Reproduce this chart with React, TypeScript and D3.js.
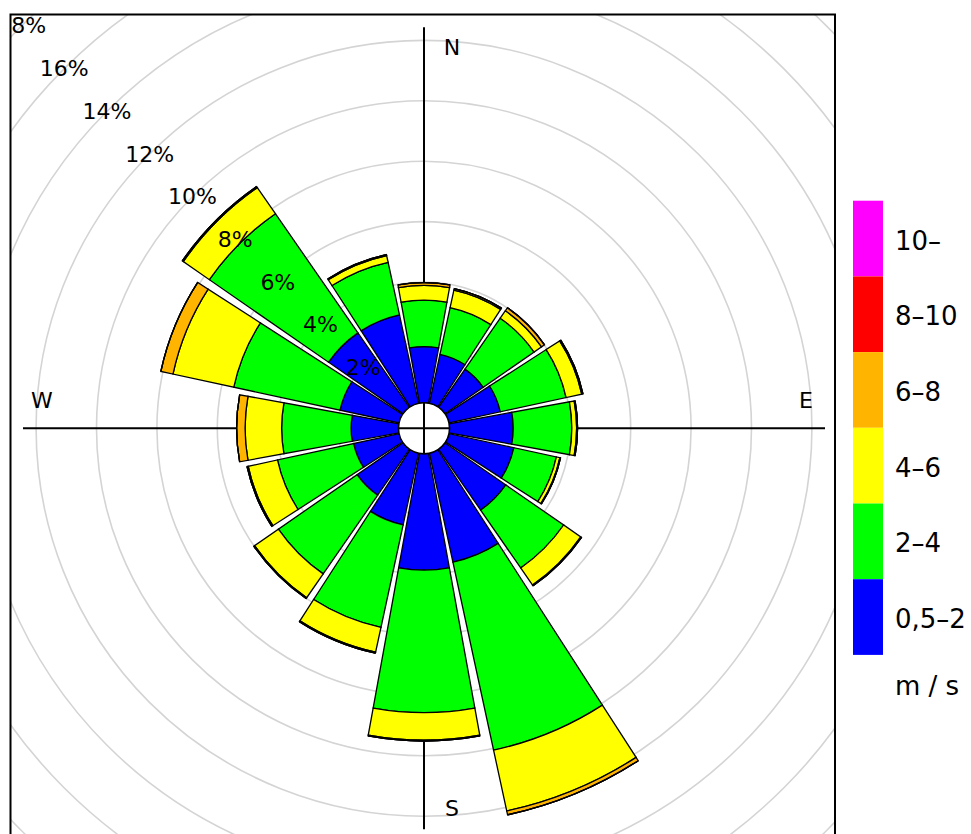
import React from "react";
import * as d3 from "d3";

const directions = ["N", "NNE", "NE", "ENE", "E", "ESE", "SE", "SSE", "S", "SSW", "SW", "WSW", "W", "WNW", "NW", "NNW"];
const speedBins = ["0,5–2", "2–4", "4–6", "6–8", "8–10", "10–"];
const binColors = ["#0000ff", "#00ff00", "#ffff00", "#ffb400", "#ff0000", "#ff00ff"];

// frequency (%) per direction, per speed bin
const bin05to2 = [1.86, 1.66, 1.54, 1.74, 2.11, 2.2, 2.45, 3.69, 3.85, 2.43, 1.85, 1.54, 1.57, 2.0, 3.0, 3.0];
const bin2to4 = [1.54, 1.58, 2.05, 2.23, 1.94, 1.44, 2.33, 6.37, 4.72, 3.47, 3.17, 2.58, 2.3, 3.6, 4.8, 1.78];
const bin4to6 = [0.49, 0.6, 0.3, 0.53, 0.16, 0.12, 0.69, 2.06, 0.91, 0.84, 0.96, 0.99, 1.21, 2.06, 1.05, 0.23];
const bin6to8 = [0.09, 0.05, 0.12, 0.04, 0.03, 0.02, 0.03, 0.13, 0.03, 0.03, 0.03, 0.04, 0.28, 0.41, 0.04, 0.03];
const bin8to10 = [0, 0, 0, 0, 0, 0, 0, 0, 0, 0, 0, 0, 0, 0, 0, 0];
const bin10up = [0, 0, 0, 0, 0, 0, 0, 0, 0, 0, 0, 0, 0, 0, 0, 0];

const gridTicks = [2, 4, 6, 8, 10, 12, 14, 16, 18, 20];
const labelTicks = [2, 4, 6, 8, 10, 12, 14, 16, 18];
const compass = [
  { t: "N", dx: 28, dy: -381 },
  { t: "E", dx: 382, dy: -28 },
  { t: "S", dx: 28, dy: 380 },
  { t: "W", dx: -382, dy: -28 },
];

const W = 971;
const H = 834;
const cx = 424;
const cy = 428.3;
const innerR = 25.5;
const frame = { x0: 10.5, y0: 14.5, x1: 835, y1: 842 };
const font = "'DejaVu Sans', Verdana, sans-serif";

export default function App() {
  const r = d3.scaleLinear().domain([0, 20]).range([innerR, innerR + 604]);
  const series = [bin05to2, bin2to4, bin4to6, bin6to8, bin8to10, bin10up];
  const half = (10.3 * Math.PI) / 180;
  const arc = d3.arc<any>();

  const wedges = directions.map((d, i) => {
    const a = (i * 22.5 * Math.PI) / 180;
    let cum = 0;
    const segs = series.map((s, k) => {
      const start = cum;
      cum += s[i];
      return {
        key: `${d}-${k}`,
        color: binColors[k],
        path: arc({
          innerRadius: r(start),
          outerRadius: r(cum),
          startAngle: a - half,
          endAngle: a + half,
        }) as string,
      };
    });
    return segs;
  });

  const legendTop = 200.7;
  const legendH = 75.7;
  const legendItems = speedBins.map((b, k) => ({ b, color: binColors[k] })).reverse();

  return (
    <svg width={W} height={H} style={{ position: "absolute", left: 0, top: 0, background: "#fff" }} fontFamily={font}>
      <defs>
        <clipPath id="plotclip">
          <rect x={frame.x0} y={frame.y0} width={frame.x1 - frame.x0} height={frame.y1 - frame.y0} />
        </clipPath>
      </defs>
      <g clipPath="url(#plotclip)">
        {gridTicks.map((t) => (
          <circle key={t} cx={cx} cy={cy} r={r(t)} fill="none" stroke="#d4d4d4" strokeWidth={1.6} />
        ))}
        <line x1={cx} x2={cx} y1={cy - 401} y2={cy + 401} stroke="#000" strokeWidth={2} />
        <line x1={cx - 401} x2={cx + 401} y1={cy} y2={cy} stroke="#000" strokeWidth={2} />
        <g transform={`translate(${cx},${cy})`}>
          {wedges.map((segs) =>
            segs.map((s) => (
              <path key={s.key} d={s.path} fill={s.color} stroke="#000" strokeWidth={1.3} strokeLinejoin="miter" />
            ))
          )}
          <circle r={innerR} fill="#fff" stroke="#000" strokeWidth={1.5} />
          <line x1={0} x2={0} y1={-innerR} y2={innerR} stroke="#000" strokeWidth={2} />
          <line x1={-innerR} x2={innerR} y1={0} y2={0} stroke="#000" strokeWidth={2} />
        </g>
        {labelTicks.map((t) => (
          <text
            key={t}
            x={cx - r(t) * Math.SQRT1_2}
            y={cy - r(t) * Math.SQRT1_2}
            textAnchor="middle"
            dominantBaseline="central"
            fontSize={22}
            fill="#000"
          >
            {`${t}%`}
          </text>
        ))}
        {compass.map((c) => (
          <text
            key={c.t}
            x={cx + c.dx}
            y={cy + c.dy}
            textAnchor="middle"
            dominantBaseline="central"
            fontSize={22}
            fill="#000"
          >
            {c.t}
          </text>
        ))}
      </g>
      <rect
        x={frame.x0}
        y={frame.y0}
        width={frame.x1 - frame.x0}
        height={frame.y1 - frame.y0}
        fill="none"
        stroke="#000"
        strokeWidth={2}
      />
      <g>
        {legendItems.map((it, j) => (
          <g key={it.b}>
            <rect x={853} y={legendTop + j * legendH} width={30} height={legendH} fill={it.color} />
            <text
              x={895}
              y={legendTop + j * legendH + legendH / 2 + 2}
              dominantBaseline="central"
              fontSize={26}
              fill="#000"
            >
              {it.b}
            </text>
          </g>
        ))}
        <text x={895} y={695} fontSize={26} fill="#000">
          m / s
        </text>
      </g>
    </svg>
  );
}
